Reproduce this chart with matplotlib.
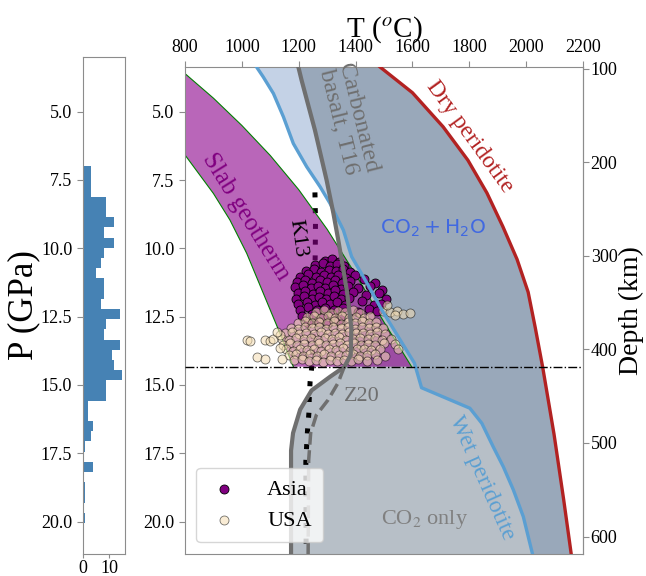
import numpy as np
import matplotlib

matplotlib.use("Agg")
import matplotlib.pyplot as plt

plt.rcParams["font.family"] = ["Liberation Serif", "DejaVu Serif"]
plt.rcParams["mathtext.fontset"] = "stix"

# --- melting curves (T in C, P in GPa) ---
dry_P = [3.2, 3.35, 4.3, 5.55, 6.77, 7.97, 9.2, 10.4, 11.6, 12.9, 14.34, 16.8, 19.2, 21.3]
dry_T = [1470, 1485, 1600, 1708, 1795, 1862, 1918, 1968, 2007, 2032, 2058, 2098, 2132, 2160]

wet_P = [3.1, 3.72, 4.33, 5.18, 6.16, 7.01, 7.74, 8.35, 9.33, 10.3, 11.27, 12.25, 13.2, 14.2,
         15.1, 15.85, 16.4, 17.26, 18.0, 18.84, 19.82, 21.3]
wet_T = [1035, 1075, 1111, 1146, 1181, 1228, 1275, 1310, 1357, 1386, 1440, 1492, 1548, 1607,
         1632, 1802, 1844, 1884, 1920, 1955, 1990, 2025]

carb_P = [3.2, 3.84, 5.67, 7.5, 8.72, 9.69, 10.79, 11.6, 12.9, 13.9, 14.34, 14.7, 15.2, 15.9, 16.76, 17.4, 21.3]
carb_T = [1195, 1210, 1257, 1298, 1322, 1339, 1357, 1370, 1385, 1383, 1360, 1310, 1245, 1205, 1180, 1173, 1173]

z20_P = [14.34, 14.93, 15.55, 16.1, 16.76, 17.75, 21.3]
z20_T = [1360, 1338, 1303, 1262, 1242, 1235, 1233]

k13_P = [7.95, 9.0, 10.2, 12.0, 13.5, 14.33, 14.88, 15.5, 16.0, 16.65, 17.2, 17.8, 21.3]
k13_T = [1257, 1259, 1258, 1255, 1250, 1246, 1240, 1237, 1236, 1231, 1228, 1225, 1226]

# slab geotherm envelope
slab_top_T = [780, 800, 900, 1000, 1100, 1200, 1300, 1400, 1500, 1597]
slab_top_P = [3.4, 3.6, 4.5, 5.5, 6.6, 7.85, 9.3, 10.95, 12.7, 14.33]
slab_bot_T = [780, 800, 900, 958, 1017, 1134, 1181]
slab_bot_P = [6.3, 6.58, 7.99, 8.96, 10.18, 13.11, 14.33]

p410 = 14.33

# --- samples ---
asia_T = [1292, 1318, 1342,
          1258, 1286, 1309, 1334, 1360,
          1224, 1252, 1279, 1305, 1331, 1356, 1381,
          1206, 1233, 1262, 1288, 1313, 1339, 1366, 1398,
          1195, 1221, 1247, 1274, 1299, 1326, 1352, 1380, 1431, 1468,
          1188, 1215, 1243, 1268, 1294, 1320, 1347, 1373, 1410, 1452, 1493,
          1197, 1222, 1250, 1275, 1302, 1328, 1355, 1392, 1437, 1481, 1506,
          1190, 1218, 1245, 1271, 1297, 1323, 1350, 1378, 1422, 1464,
          1198, 1228, 1256, 1283, 1310, 1336, 1364, 1447, 1489,
          1203, 1233, 1264, 1294, 1325, 1356, 1408, 1476,
          1213, 1247, 1284, 1318, 1350,
          1232, 1268, 1302, 1338]
asia_P = [10.45, 10.38, 10.48,
          10.62, 10.55, 10.66, 10.57, 10.63,
          10.82, 10.75, 10.86, 10.78, 10.84, 10.74, 10.87,
          11.03, 10.95, 11.06, 10.98, 11.04, 10.96, 11.07, 10.97,
          11.23, 11.15, 11.26, 11.17, 11.24, 11.14, 11.27, 11.19, 11.12, 11.28,
          11.43, 11.35, 11.46, 11.37, 11.44, 11.34, 11.47, 11.39, 11.45, 11.36, 11.52,
          11.64, 11.55, 11.66, 11.57, 11.65, 11.54, 11.67, 11.6, 11.71, 11.63, 11.85,
          11.84, 11.75, 11.86, 11.77, 11.85, 11.74, 11.87, 11.8, 11.93, 12.08,
          12.04, 11.96, 12.07, 11.97, 12.05, 11.95, 12.08, 12.21, 12.02,
          12.24, 12.16, 12.27, 12.18, 12.25, 12.17, 12.33, 12.28,
          12.47, 12.4, 12.5, 12.42, 12.48,
          12.72, 12.65, 12.74, 12.67]

usa_T = [1262, 1288, 1313, 1338, 1362, 1390, 1415,
         1228, 1252, 1277, 1303, 1327, 1352, 1378, 1402, 1428, 1450,
         1196, 1222, 1247, 1272, 1298, 1323, 1348, 1373, 1398, 1423, 1448, 1472,
         1172, 1197, 1222, 1247, 1272, 1297, 1322, 1347, 1372, 1397, 1422, 1447, 1472, 1495,
         1152, 1177, 1202, 1227, 1252, 1277, 1302, 1327, 1352, 1377, 1402, 1427, 1452, 1477, 1505,
         1142, 1167, 1192, 1217, 1242, 1267, 1292, 1317, 1342, 1367, 1392, 1417, 1442, 1467, 1492, 1525,
         1145, 1170, 1195, 1220, 1245, 1270, 1295, 1320, 1345, 1370, 1395, 1420, 1445, 1470, 1500, 1540,
         1155, 1180, 1205, 1230, 1255, 1280, 1305, 1330, 1355, 1380, 1405, 1430, 1455, 1485, 1550,
         1165, 1190, 1215, 1240, 1265, 1290, 1315, 1340, 1365, 1390, 1415, 1440, 1470, 1505,
         1185, 1210, 1235, 1260, 1285, 1310, 1335, 1360, 1385, 1410, 1440, 1475,
         1017, 1028, 1081, 1098, 1110, 1134, 1134, 1052, 1081, 1140, 1122,
         1498, 1521, 1545, 1568, 1591, 1509, 1539]
usa_P = [12.32, 12.26, 12.35, 12.28, 12.33, 12.27, 12.36,
         12.52, 12.47, 12.55, 12.49, 12.53, 12.46, 12.54, 12.5, 12.56, 12.48,
         12.72, 12.66, 12.74, 12.68, 12.73, 12.67, 12.75, 12.69, 12.72, 12.66, 12.74, 12.7,
         12.9, 12.95, 12.87, 12.93, 12.88, 12.94, 12.86, 12.92, 12.89, 12.95, 12.87, 12.93, 12.88, 12.92,
         13.1, 13.06, 13.13, 13.08, 13.14, 13.07, 13.12, 13.09, 13.15, 13.06, 13.11, 13.08, 13.14, 13.07, 13.12,
         13.3, 13.34, 13.27, 13.33, 13.28, 13.35, 13.29, 13.32, 13.26, 13.34, 13.3, 13.27, 13.33, 13.29, 13.35, 13.3,
         13.52, 13.47, 13.54, 13.49, 13.53, 13.46, 13.55, 13.5, 13.48, 13.54, 13.47, 13.52, 13.49, 13.55, 13.48, 13.5,
         13.7, 13.74, 13.67, 13.73, 13.68, 13.75, 13.69, 13.72, 13.66, 13.74, 13.7, 13.67, 13.73, 13.69, 13.68,
         13.92, 13.87, 13.94, 13.88, 13.93, 13.86, 13.95, 13.89, 13.92, 13.87, 13.94, 13.9, 13.88, 13.93,
         14.1, 14.06, 14.13, 14.08, 14.14, 14.07, 14.12, 14.09, 14.13, 14.06, 14.11, 14.08,
         13.35, 13.4, 13.35, 13.4, 13.33, 13.17, 13.66, 13.97, 14.04, 14.04, 13.05,
         12.3, 12.33, 12.3, 12.4, 12.38, 12.07, 12.45]

# --- pressure histogram (counts per bin) ---
hist_counts = [3, 3, 3, 9, 9, 12, 8, 12, 8, 7, 5, 8, 8, 7, 14, 9, 8, 14, 11, 12, 15, 9, 9,
               2, 2, 4, 3, 1, 0, 4, 0, 1, 1, 0, 1]
hist_edges = np.linspace(7.0, 20.05, len(hist_counts) + 1)

fig = plt.figure(figsize=(6.46, 5.76), dpi=100)
axh = fig.add_axes([0.128, 0.039, 0.0655, 0.862])
ax = fig.add_axes([0.2864, 0.039, 0.6161, 0.8451])

spine_c = "#8c8c8c"

# histogram
axh.barh(hist_edges[:-1], hist_counts, height=np.diff(hist_edges), align="edge",
         color="steelblue", linewidth=0)
axh.set_ylim(21.17, 3.0)
axh.set_xlim(0, 16)
axh.set_xticks([0, 10])
axh.set_yticks([5, 7.5, 10, 12.5, 15, 17.5, 20])
axh.set_ylabel("P (GPa)", fontsize=25, labelpad=0)

# main panel: melt regions
ax.fill(np.concatenate([wet_T, dry_T[::-1]]), np.concatenate([wet_P, dry_P[::-1]]),
        color="lightsteelblue", alpha=0.75, lw=0, zorder=1)
ax.fill(np.concatenate([carb_T, dry_T[::-1]]), np.concatenate([carb_P, dry_P[::-1]]),
        color="slategray", alpha=0.5, lw=0, zorder=1)

ax.plot(k13_T, k13_P, color="black", lw=3.6, ls=(0, (1, 2.15)), zorder=1.5)

# slab geotherm band, cut at the 410
ax.fill(np.concatenate([slab_top_T, slab_bot_T[::-1]]), np.concatenate([slab_top_P, slab_bot_P[::-1]]),
        color="darkmagenta", alpha=0.6, lw=0, zorder=2)
ax.plot(slab_top_T, slab_top_P, color="green", lw=0.8, zorder=2)
ax.plot(slab_bot_T, slab_bot_P, color="green", lw=0.8, zorder=2)

ax.scatter(asia_T, asia_P, s=42, color="purple", edgecolor="black", lw=0.6, zorder=3, label="Asia")
ax.scatter(usa_T, usa_P, s=42, color="wheat", edgecolor="black", lw=0.6, alpha=0.55, zorder=3,
           label="USA")

ax.plot(wet_T, wet_P, color="#5b9fd2", lw=2.4, zorder=4)
ax.plot(dry_T, dry_P, color="#b22222", lw=2.4, zorder=4)
ax.plot(carb_T, carb_P, color="#6f6f6f", lw=3, zorder=4)
ax.plot(z20_T, z20_P, color="#6f6f6f", lw=2.5, ls="--", zorder=4)
ax.axhline(p410, color="black", lw=1, ls="-.", zorder=5)

# labels
ax.text(1015, 8.86, "Slab geotherm", color="purple", fontsize=18, rotation=-58,
        ha="center", va="center", zorder=6)
ax.text(1372, 5.3, "Carbonated\nbasalt, T16", color="#6f6f6f", fontsize=17.5, rotation=-76,
        ha="center", va="center", linespacing=0.95, zorder=6)
ax.text(1197, 9.63, "K13", color="black", fontsize=16, rotation=-82, ha="center", va="center", zorder=6)
ax.text(1802, 5.9, "Dry peridotite", color="#b22222", fontsize=17, rotation=-54,
        ha="center", va="center", zorder=6)
ax.text(1672, 9.26, r"CO$_2 + $H$_2$O", color="royalblue", fontsize=14.5, family="DejaVu Sans",
        math_fontfamily="dejavusans", ha="center", va="center", zorder=6)
ax.text(1845, 18.4, "Wet peridotite", color="#5b9fd2", fontsize=17, rotation=-66,
        ha="center", va="center", zorder=6)
ax.text(1421, 15.43, "Z20", color="#6f6f6f", fontsize=16, ha="center", va="center", zorder=6)
ax.text(1644, 19.93, r"CO$_2$ only", color="#808080", fontsize=16, ha="center", va="center", zorder=6)

ax.set_xlim(800, 2200)
ax.set_ylim(21.17, 3.35)
ax.xaxis.tick_top()
ax.xaxis.set_label_position("top")
ax.set_xticks(np.arange(800, 2201, 200))
ax.set_xlabel(r"T ($^o$C)", fontsize=21, labelpad=2)
ax.set_yticks([5, 7.5, 10, 12.5, 15, 17.5, 20])

sec = ax.secondary_yaxis("right", functions=(lambda p: p * 29.2, lambda d: d / 29.2))
sec.set_yticks([100, 200, 300, 400, 500, 600])
sec.set_ylabel("Depth (km)", fontsize=20, labelpad=1)

for a in (ax, axh, sec):
    for s in a.spines.values():
        s.set_color(spine_c)
    a.tick_params(colors=spine_c, labelcolor="black", labelsize=13, length=4)
axh.tick_params(axis="x", length=3, pad=1.5)
sec.tick_params(pad=1.5)

leg = ax.legend(loc="lower left", fontsize=16, handlelength=1.5, handletextpad=1.2,
                borderpad=0.5, labelspacing=0.5)
leg.set_zorder(7)

fig.savefig("out.png", dpi=100)
